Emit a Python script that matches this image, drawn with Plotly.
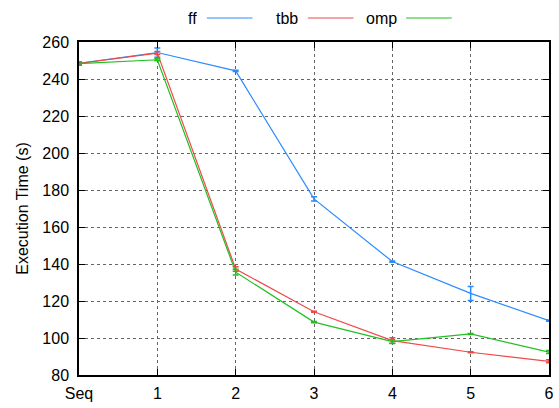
import plotly.graph_objects as go

x_labels = ["Seq", "1", "2", "3", "4", "5", "6"]
x_pos = [0, 1, 2, 3, 4, 5, 6]

ff = [248.5, 254.3, 244.4, 175.2, 141.3, 124.1, 109.4]
ff_err = [0.8, 2.5, 0.3, 1.2, 0.3, 3.8, 0.3]
tbb = [248.4, 254.0, 137.3, 114.2, 98.6, 92.3, 87.4]
tbb_err = [0.8, 0.8, 1.2, 0.3, 1.5, 0.3, 0.8]
omp = [248.3, 250.4, 135.6, 108.6, 98.0, 102.2, 92.4]
omp_err = [0.9, 0.5, 1.5, 0.3, 1.0, 0.3, 0.8]

names = ["ff", "tbb", "omp"]
colors = ["#2a8cff", "#f24848", "#1fc01f"]
series = [ff, tbb, omp]
errs = [ff_err, tbb_err, omp_err]

fig = go.Figure()
for name, col, ys, es in zip(names, colors, series, errs):
    fig.add_trace(go.Scatter(
        x=x_pos, y=ys, name=name, mode="lines",
        line=dict(color=col, width=1.2),
        error_y=dict(type="data", array=es, visible=True, color=col, thickness=1.5, width=3),
        showlegend=False, cliponaxis=False,
    ))

# gnuplot-style key: label text followed by line sample
font = dict(family="Liberation Sans, Arial, sans-serif", size=16, color="#000000")
key_text_right = [0.256, 0.471, 0.68]
for i, (name, col) in enumerate(zip(names, colors)):
    xr = key_text_right[i]
    fig.add_annotation(xref="paper", yref="paper", x=xr, y=1.072, text=name,
                       showarrow=False, xanchor="right", yanchor="middle", font=font)
    fig.add_shape(type="line", xref="paper", yref="paper",
                  x0=xr + 0.016, x1=xr + 0.113, y0=1.072, y1=1.072,
                  line=dict(color=col, width=1.2))

fig.update_layout(
    width=559, height=408,
    margin=dict(l=79, r=10, t=42, b=33),
    paper_bgcolor="white", plot_bgcolor="white",
    font=font,
    showlegend=False,
)
fig.update_xaxes(
    range=[0, 6], tickmode="array", tickvals=x_pos, ticktext=x_labels,
    showline=True, linecolor="black", linewidth=1.5, mirror="allticks",
    ticks="inside", ticklen=6, tickcolor="black", ticklabelstandoff=3,
    showgrid=True, gridcolor="#666666", griddash="dot", gridwidth=1,
    zeroline=False, tickfont=font, automargin=False,
)
fig.update_yaxes(
    range=[80, 260], tickmode="array", tickvals=list(range(80, 261, 20)),
    showline=True, linecolor="black", linewidth=1.5, mirror="allticks",
    ticks="inside", ticklen=6, tickcolor="black", ticklabelstandoff=5,
    showgrid=True, gridcolor="#666666", griddash="dot", gridwidth=1,
    zeroline=False, tickfont=font, automargin=False,
    title=dict(text="Execution Time (s)", font=font, standoff=10),
)

fig.write_html("out.html")
